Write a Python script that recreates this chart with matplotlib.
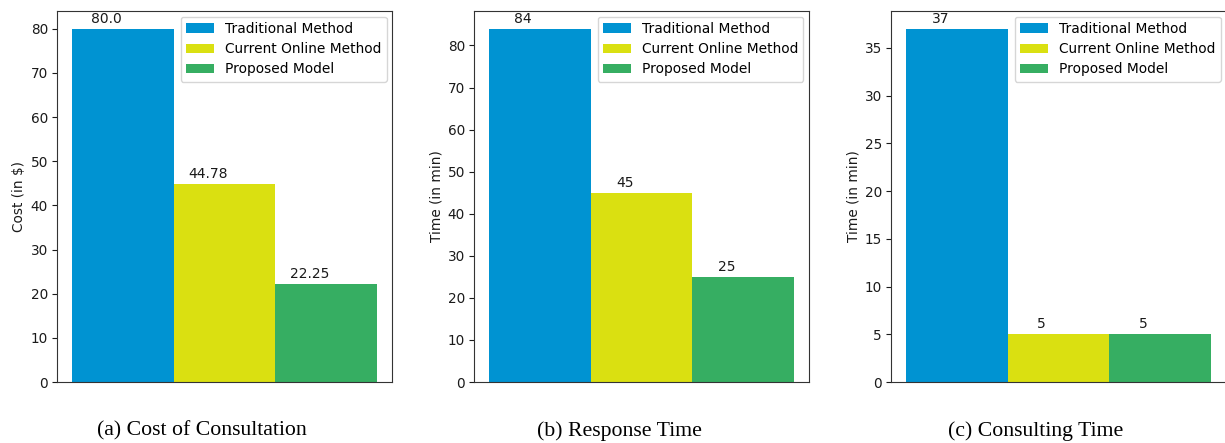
import matplotlib
matplotlib.use("Agg")
import matplotlib.pyplot as plt

methods = ["Traditional Method", "Current Online Method", "Proposed Model"]
colors = ["#0093d2", "#dae011", "#36ae62"]

cost_values = [80.0, 44.78, 22.25]
response_values = [84, 45, 25]
consulting_values = [37, 5, 5]

ylabels = ["Cost (in \\$)", "Time (in min)", "Time (in min)"]
captions = ["(a) Cost of Consultation", "(b) Response Time", "(c) Consulting Time"]
yticks_list = [list(range(0, 81, 10)), list(range(0, 81, 10)), list(range(0, 36, 5))]

W, H = 1225, 443
fig = plt.figure(figsize=(W / 100, H / 100), dpi=100)

axes_px = [(57, 392), (474, 809), (891, 1226)]
caption_cx = [202, 619, 1036]
top_px, bottom_px = 11, 382

datasets = [cost_values, response_values, consulting_values]
for k, (vals, (l, r)) in enumerate(zip(datasets, axes_px)):
    ax = fig.add_axes([l / W, 1 - bottom_px / H, (r - l) / W, (bottom_px - top_px) / H])
    for i, (v, c, m) in enumerate(zip(vals, colors, methods)):
        ax.bar(i, v, width=1.0, color=c, label=m)
        ax.annotate(str(v), xy=(i - 0.165, v), xytext=(0, 2.0), textcoords="offset points",
                    ha="center", va="bottom", fontsize=10, color="#1a1a1a")
    ax.set_xticks([])
    ax.set_yticks(yticks_list[k])
    ax.tick_params(axis="y", labelsize=9.8, length=3.5, colors="#1a1a1a", pad=3)
    ax.set_ylabel(ylabels[k], fontsize=9.8, labelpad=3, color="#1a1a1a")
    ax.set_ylim(0, max(vals) * 1.05)
    ax.set_xlim(-0.65, 2.65)
    for s in ax.spines.values():
        s.set_color("#333333")
        s.set_linewidth(0.8)
    ax.legend(loc="upper right", fontsize=9.9, framealpha=0.8, borderaxespad=0.4,
              handlelength=2.0, labelspacing=0.45)
    fig.text(caption_cx[k] / W, 1 - 431 / H, captions[k], ha="center", va="center",
             fontsize=15.7, family="Liberation Serif")

fig.savefig("out.png", dpi=100)
